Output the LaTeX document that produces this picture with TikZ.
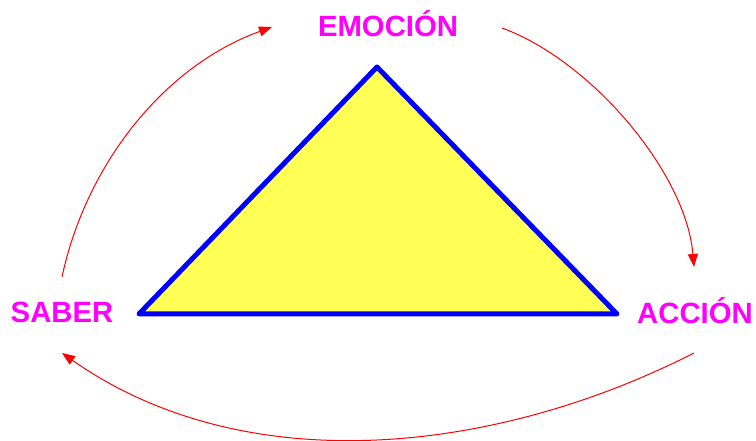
\documentclass[tikz,border=0pt]{standalone}
\usepackage{fontspec}
\setmainfont{Liberation Sans}
\usetikzlibrary{arrows.meta,calc}
\definecolor{lbl}{HTML}{FF00FF}
\definecolor{tri}{HTML}{FFFF55}
\definecolor{edge}{HTML}{0000FF}
\definecolor{arr}{HTML}{FF0000}
\begin{document}
\begin{tikzpicture}[x=1pt,y=1pt,
  label/.style={text=lbl,font=\fontsize{29.3}{31}\selectfont\bfseries,inner sep=0pt,anchor=base},
  cyc/.style={draw=arr,line width=1pt,-{Triangle[length=13pt,width=10pt]}}]
\useasboundingbox (0,0) rectangle (756,441);
% triangle
\coordinate (top) at (377,374);
\coordinate (bl) at (139,127);
\coordinate (br) at (617,127);
\filldraw[fill=tri,draw=edge,line width=5pt,line join=round] (top) -- (bl) -- (br) -- cycle;
% labels
\node[label] (emo) at (388,404) {EMOCIÓN};
\node[label] (sab) at (62,118) {SABER};
\node[label] (acc) at (695,117) {ACCIÓN};
% arrow end points
\coordinate (s1) at (62,164);
\coordinate (e1) at (272,414);
\coordinate (s2) at (502,413);
\coordinate (e2) at (694,174);
\coordinate (s3) at (694,88);
\coordinate (e3) at (62,88);
\draw[cyc] (s1) .. controls ($(s1)+(24,112.5)$) and ($(e1)+(-108,-39)$) .. (e1);
\draw[cyc] (s2) .. controls ($(s2)+(89,-32.5)$) and ($(e2)+(-8,94.5)$) .. (e2);
\draw[cyc] (s3) .. controls ($(s3)+(-199.5,-101.5)$) and ($(e3)+(183.5,-128.5)$) .. (e3);
\end{tikzpicture}
\end{document}
